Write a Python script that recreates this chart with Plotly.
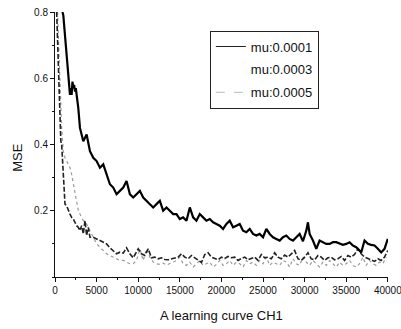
import plotly.graph_objects as go

# ---------------- data ----------------
s1_x = [800, 900, 1000, 1100, 1200, 1300, 1400, 1500, 1600, 1700, 1800, 1900, 2000, 2100, 2200,
        2300, 2400, 2500, 2600, 2700, 2800, 2900, 3000, 3400, 3800, 4200, 4600, 5000, 5400, 5800,
        6200, 6600, 7000, 7400, 7800, 8200, 8600, 9000, 9400, 9800, 10200, 10600, 11000, 11400,
        11800, 12200, 12600, 13000, 13400, 13800, 14200, 14600, 15000, 15400, 15800, 16200, 16600,
        17000, 17400, 17800, 18200, 18600, 19000, 19400, 19800, 20200, 20600, 21000, 21400, 21800,
        22200, 22600, 23000, 23400, 23800, 24200, 24600, 25000, 25400, 25800, 26200, 26600, 27000,
        27400, 27800, 28200, 28600, 29000, 29400, 29800, 30200, 30400, 30600, 31000, 31400, 31800,
        32200, 32600, 33000, 33400, 33800, 34200, 34600, 35000, 35400, 35800, 36200, 36600, 36800,
        37200, 37600, 38000, 38400, 38800, 39200, 39600, 40000]
s1_y = [0.80, 0.80, 0.79, 0.76, 0.73, 0.70, 0.67, 0.64, 0.61, 0.58, 0.55, 0.57, 0.55, 0.59, 0.57,
        0.58, 0.56, 0.57, 0.54, 0.53, 0.51, 0.48, 0.45, 0.41, 0.43, 0.38, 0.36, 0.35, 0.33, 0.34,
        0.31, 0.28, 0.27, 0.25, 0.26, 0.27, 0.29, 0.25, 0.24, 0.25, 0.26, 0.24, 0.23, 0.22,
        0.21, 0.22, 0.23, 0.20, 0.21, 0.20, 0.19, 0.19, 0.175, 0.18, 0.17, 0.21, 0.18,
        0.17, 0.19, 0.18, 0.17, 0.175, 0.165, 0.16, 0.155, 0.145, 0.16, 0.17, 0.15, 0.155,
        0.16, 0.14, 0.135, 0.145, 0.13, 0.125, 0.13, 0.12, 0.145, 0.13, 0.12, 0.115, 0.11,
        0.12, 0.125, 0.115, 0.11, 0.12, 0.13, 0.108, 0.14, 0.165, 0.13, 0.11, 0.085, 0.11,
        0.105, 0.10, 0.10, 0.105, 0.105, 0.10, 0.097, 0.10, 0.105, 0.095, 0.09, 0.08, 0.074,
        0.11, 0.10, 0.097, 0.095, 0.085, 0.074, 0.085, 0.115]

s2_x = [200, 300, 400, 500, 600, 700, 800, 900, 1000, 1100, 1200, 1400, 1600, 1800, 2000, 2200,
        2400, 2600, 2800, 3000, 3200, 3400, 3600, 3800, 4000, 4200, 4600, 5000, 5400, 5800, 6200,
        6600, 7000, 7400, 7800, 8200, 8600, 9000, 9400, 9800, 10000, 10400, 10800, 11200, 11600,
        12000, 12400, 12800, 13200, 13600, 14000, 14400, 14800, 15200, 15600, 16000, 16400, 16800,
        17200, 17600, 18000, 18400, 18800, 19200, 19600, 20000, 20400, 20800, 21200, 21600, 22000,
        22400, 22800, 23200, 23600, 24000, 24400, 24800, 25200, 25600, 26000, 26400, 26800, 27200,
        27600, 28000, 28400, 28800, 29200, 29600, 30000, 30400, 30800, 31200, 31600, 32000, 32400,
        32800, 33200, 33600, 34000, 34400, 34800, 35200, 35600, 36000, 36400, 36800, 37200, 37600,
        38000, 38400, 38800, 39200, 39600, 40000]
s2_y = [0.80, 0.72, 0.62, 0.52, 0.44, 0.41, 0.40, 0.36, 0.30, 0.25, 0.22, 0.215, 0.20, 0.19, 0.18,
        0.175, 0.165, 0.155, 0.15, 0.14, 0.155, 0.13, 0.17, 0.125, 0.15, 0.12, 0.12, 0.115, 0.11,
        0.105, 0.10, 0.088, 0.08, 0.07, 0.075, 0.072, 0.088, 0.07, 0.058, 0.075, 0.085, 0.07,
        0.065, 0.085, 0.058, 0.06, 0.055, 0.058, 0.053, 0.052, 0.055, 0.058, 0.06, 0.07, 0.06,
        0.055, 0.065, 0.058, 0.052, 0.044, 0.068, 0.073, 0.06, 0.056, 0.052, 0.06, 0.056, 0.062,
        0.058, 0.06, 0.05, 0.056, 0.06, 0.052, 0.055, 0.06, 0.05, 0.068, 0.058, 0.06, 0.055,
        0.073, 0.06, 0.055, 0.066, 0.06, 0.07, 0.08, 0.055, 0.05, 0.06, 0.073, 0.055, 0.052,
        0.065, 0.06, 0.05, 0.058, 0.06, 0.052, 0.055, 0.062, 0.05, 0.065, 0.06, 0.068, 0.085,
        0.07, 0.06, 0.055, 0.05, 0.047, 0.055, 0.05, 0.06, 0.08]

s3_x = [300, 400, 500, 600, 800, 1000, 1200, 1400, 1600, 1800, 2000, 2200, 2400, 2600, 2800, 3000,
        3400, 3800, 4200, 4600, 5000, 5400, 5800, 6200, 6600, 7000, 7400, 7800, 8200, 8600, 9000,
        9400, 9800, 10200, 10600, 11000, 11400, 11800, 12200, 12600, 13000, 13400, 13800, 14200,
        14600, 15000, 15400, 15800, 16200, 16600, 17000, 17400, 17800, 18200, 18600, 19000, 19400,
        19800, 20200, 20600, 21000, 21400, 21800, 22200, 22600, 23000, 23400, 23800, 24200, 24600,
        25000, 25400, 25800, 26200, 26600, 27000, 27400, 27800, 28200, 28600, 29000, 29400, 29800,
        30200, 30600, 31000, 31400, 31800, 32200, 32600, 33000, 33400, 33800, 34200, 34600, 35000,
        35400, 35800, 36200, 36600, 37000, 37400, 37800, 38200, 38600, 39000, 39400, 39800, 40000]
s3_y = [0.80, 0.72, 0.62, 0.55, 0.45, 0.38, 0.36, 0.35, 0.34, 0.33, 0.31, 0.28, 0.25, 0.22, 0.20,
        0.19, 0.17, 0.16, 0.14, 0.12, 0.10, 0.09, 0.08, 0.07, 0.065, 0.06, 0.055, 0.05, 0.05,
        0.045, 0.04, 0.04, 0.05, 0.085, 0.05, 0.085, 0.06, 0.045, 0.04, 0.038, 0.042, 0.036,
        0.04, 0.045, 0.05, 0.06, 0.04, 0.035, 0.045, 0.03, 0.04, 0.05, 0.035, 0.04, 0.045, 0.03,
        0.038, 0.05, 0.035, 0.04, 0.05, 0.035, 0.045, 0.04, 0.03, 0.05, 0.04, 0.045, 0.035, 0.05,
        0.04, 0.06, 0.035, 0.045, 0.04, 0.035, 0.05, 0.045, 0.03, 0.055, 0.04, 0.035, 0.06, 0.045,
        0.035, 0.05, 0.04, 0.03, 0.045, 0.035, 0.05, 0.04, 0.03, 0.045, 0.035, 0.04, 0.05, 0.035,
        0.03, 0.04, 0.06, 0.035, 0.05, 0.04, 0.035, 0.045, 0.04, 0.06]

names = ["mu:0.0001", "mu:0.0003", "mu:0.0005"]
x_ticks = [0, 5000, 10000, 15000, 20000, 25000, 30000, 35000, 40000]
y_ticks = [0.2, 0.4, 0.6, 0.8]
x_title = "A learning curve CH1"
y_title = "MSE"

FONT = "Liberation Sans, Arial, sans-serif"

fig = go.Figure()
fig.add_trace(go.Scatter(x=s3_x, y=s3_y, mode="lines", showlegend=False,
                         line=dict(color="#9a9a9a", width=1.2, dash="dot")))
fig.add_trace(go.Scatter(x=s2_x, y=s2_y, mode="lines", showlegend=False,
                         line=dict(color="#222222", width=1.6, dash="5px,2px")))
fig.add_trace(go.Scatter(x=s1_x, y=s1_y, mode="lines", showlegend=False,
                         line=dict(color="#000000", width=2.2)))

# legend entries
fig.add_trace(go.Scatter(x=[None], y=[None], mode="lines", name=names[0], legendgroup="a",
                         line=dict(color="#222222", width=1)))
fig.add_trace(go.Scatter(x=[None], y=[None], mode="lines", name=names[1], legendgroup="b",
                         line=dict(color="rgba(0,0,0,0)", width=1)))
fig.add_trace(go.Scatter(x=[None], y=[None], mode="lines", name=names[2], legendgroup="c",
                         line=dict(color="#bbbbbb", width=1, dash="dash")))

fig.add_annotation(text=x_title, xref="paper", yref="paper", x=0.5, y=0, yshift=-38,
                   xanchor="center", yanchor="middle", showarrow=False, font=dict(size=13))
fig.add_annotation(text=y_title, xref="paper", yref="paper", x=0, xshift=-37, y=0.45,
                   xanchor="center", yanchor="middle", showarrow=False, textangle=-90,
                   font=dict(size=13))

fig.update_layout(
    width=401, height=329,
    margin=dict(l=55, r=13, t=12, b=52),
    paper_bgcolor="white", plot_bgcolor="white",
    font=dict(family=FONT, color="#111111", size=13),
    legend=dict(x=0.465, y=0.93, xanchor="left", yanchor="top",
                bordercolor="#222222", borderwidth=1, bgcolor="white",
                font=dict(size=13), tracegroupgap=3, itemwidth=30),
    xaxis=dict(range=[0, 40020], tickvals=x_ticks, ticktext=[str(v) for v in x_ticks],
               automargin=False, ticklabeloverflow="allow",
               showline=True, linecolor="#111111", linewidth=1, showgrid=False, zeroline=False,
               ticks="outside", ticklen=4, tickcolor="#111111",
               tickfont=dict(size=10, family="Liberation Sans Narrow, Arial Narrow, " + FONT),
               minor=dict(dtick=2500, tick0=0, ticks="outside", ticklen=2, tickcolor="#111111")),
    yaxis=dict(range=[0, 0.8], tickvals=y_ticks, ticktext=["0.2", "0.4", "0.6", "0.8"],
               automargin=False,
               showline=True, linecolor="#111111", linewidth=1, showgrid=False, zeroline=False,
               ticks="outside", ticklen=4, tickcolor="#111111",
               tickfont=dict(size=10),
               minor=dict(dtick=0.1, tick0=0, ticks="outside", ticklen=2, tickcolor="#111111")),
)

fig.write_html("out.html", config={"displayModeBar": False},
               post_script="document.body.style.margin='0';document.body.style.padding='0';")
